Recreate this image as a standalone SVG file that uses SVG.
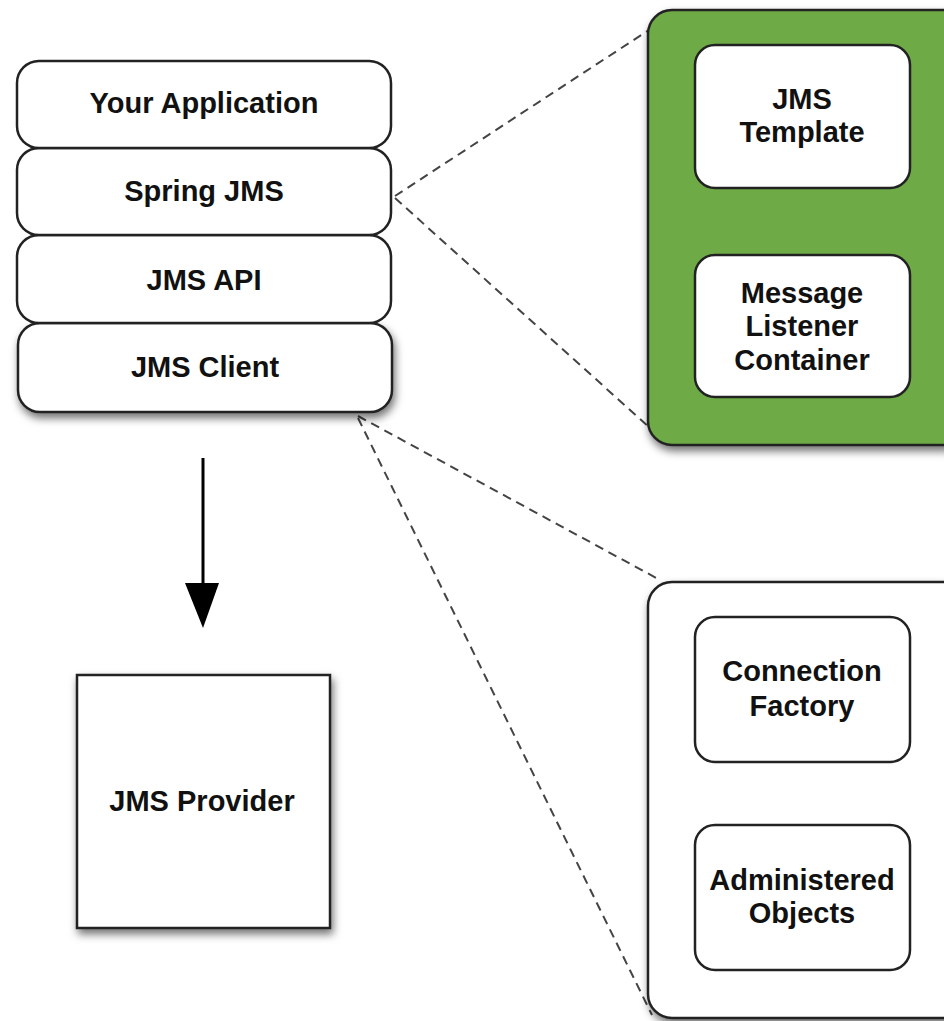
<svg xmlns="http://www.w3.org/2000/svg" width="944" height="1021" viewBox="0 0 944 1021">
<defs>
<filter id="sh" x="-10%" y="-10%" width="130%" height="130%">
<feDropShadow dx="2" dy="5" stdDeviation="4" flood-color="#000" flood-opacity="0.55"/>
</filter>
<style>
.n{fill:#fff;stroke:#222;stroke-width:2.5}
.g{fill:#6eab47;stroke:#222;stroke-width:2.5}
.t{font-family:"Liberation Sans",Arial,sans-serif;font-weight:bold;font-size:29px;fill:#111;text-anchor:middle;dominant-baseline:central}
.d{fill:none;stroke:#444;stroke-width:2;stroke-dasharray:9,6}
</style>
</defs>
<rect width="944" height="1021" fill="#fff"/>
<g id="connectors">
<path class="d" d="M395,196 L652,28"/>
<path class="d" d="M395,198 L650,428"/>
<path class="d" d="M358,416 L660,580"/>
<path class="d" d="M358,418 L652,1015"/>
<line x1="203" y1="458" x2="203" y2="590" stroke="#000" stroke-width="3"/>
<path d="M185,583 L219,583 L203,628 Z" fill="#000"/>
</g>
<g id="green-group">
<rect class="g" x="648" y="10" width="320" height="435" rx="24" filter="url(#sh)"/>
</g>
<g id="admin-group">
<rect class="n" x="648" y="582" width="320" height="436" rx="24" filter="url(#sh)"/>
</g>
<g id="jms-client">
<rect class="n" x="18" y="323" width="374" height="89" rx="22" filter="url(#sh)"/>
<text class="t" x="205" y="367">JMS Client</text>
</g>
<g id="jms-api">
<rect class="n" x="17" y="235" width="374" height="88" rx="22"/>
<text class="t" x="204" y="280">JMS API</text>
</g>
<g id="spring-jms">
<rect class="n" x="17" y="148" width="374" height="87" rx="22"/>
<text class="t" x="204" y="191">Spring JMS</text>
</g>
<g id="your-application">
<rect class="n" x="17" y="61" width="374" height="87" rx="22"/>
<text class="t" x="204" y="103">Your Application</text>
</g>
<g id="jms-template">
<rect class="n" x="695" y="45" width="215" height="143" rx="20"/>
<text class="t" x="802" y="99">JMS</text>
<text class="t" x="802" y="132">Template</text>
</g>
<g id="message-listener-container">
<rect class="n" x="695" y="255" width="215" height="142" rx="20"/>
<text class="t" x="802" y="293">Message</text>
<text class="t" x="802" y="326">Listener</text>
<text class="t" x="802" y="360">Container</text>
</g>
<g id="connection-factory">
<rect class="n" x="695" y="617" width="215" height="145" rx="20"/>
<text class="t" x="802" y="671">Connection</text>
<text class="t" x="802" y="706">Factory</text>
</g>
<g id="administered-objects">
<rect class="n" x="695" y="825" width="215" height="145" rx="20"/>
<text class="t" x="802" y="880">Administered</text>
<text class="t" x="802" y="913">Objects</text>
</g>
<g id="jms-provider">
<rect class="n" x="77" y="675" width="253" height="253" filter="url(#sh)"/>
<text class="t" x="202" y="801">JMS Provider</text>
</g>
</svg>
